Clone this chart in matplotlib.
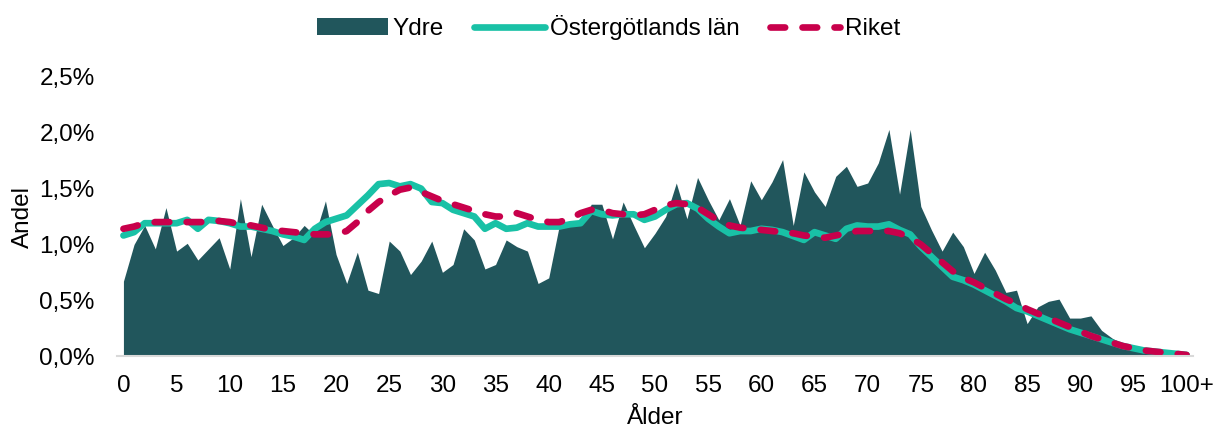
import numpy as np
import matplotlib
matplotlib.use("Agg")
import matplotlib.pyplot as plt
from matplotlib.ticker import FuncFormatter

plt.rcParams['font.family'] = ['Liberation Sans', 'DejaVu Sans']

# Age 0..100 (last one is "100+"), share of population in %
ages = list(range(101))

ydre = [0.67, 1.00, 1.17, 0.96, 1.33, 0.94, 1.01, 0.86, 0.96, 1.06,
        0.78, 1.41, 0.89, 1.36, 1.17, 0.99, 1.06, 1.17, 1.08, 1.39,
        0.91, 0.65, 0.93, 0.59, 0.56, 1.03, 0.94, 0.73, 0.85, 1.03,
        0.75, 0.82, 1.14, 1.04, 0.78, 0.82, 1.04, 0.98, 0.94, 0.65,
        0.70, 1.17, 1.17, 1.17, 1.36, 1.36, 1.05, 1.38, 1.17, 0.97,
        1.10, 1.25, 1.55, 1.23, 1.60, 1.40, 1.22, 1.41, 1.17, 1.57,
        1.40, 1.56, 1.76, 1.17, 1.65, 1.47, 1.34, 1.61, 1.70, 1.52,
        1.55, 1.73, 2.03, 1.45, 2.03, 1.34, 1.13, 0.94, 1.11, 0.98,
        0.74, 0.93, 0.77, 0.57, 0.59, 0.29, 0.44, 0.49, 0.51, 0.34,
        0.34, 0.36, 0.23, 0.16, 0.11, 0.08, 0.06, 0.04, 0.03, 0.02,
        0.01]

ostergotland = [1.08, 1.11, 1.19, 1.19, 1.19, 1.19, 1.22, 1.14, 1.22, 1.21,
                1.19, 1.16, 1.16, 1.14, 1.12, 1.09, 1.07, 1.04, 1.14, 1.20,
                1.23, 1.26, 1.35, 1.44, 1.54, 1.55, 1.52, 1.54, 1.50, 1.38,
                1.37, 1.31, 1.28, 1.25, 1.14, 1.19, 1.14, 1.15, 1.19, 1.16,
                1.16, 1.16, 1.18, 1.19, 1.30, 1.27, 1.26, 1.27, 1.27, 1.22,
                1.25, 1.31, 1.36, 1.37, 1.32, 1.23, 1.16, 1.10, 1.12, 1.12,
                1.14, 1.13, 1.11, 1.075, 1.04, 1.11, 1.08, 1.05, 1.14, 1.17,
                1.16, 1.16, 1.18, 1.13, 1.09, 0.98, 0.89, 0.80, 0.71, 0.68,
                0.64, 0.59, 0.54, 0.49, 0.43, 0.40, 0.36, 0.32, 0.28, 0.24,
                0.21, 0.18, 0.15, 0.12, 0.09, 0.07, 0.05, 0.04, 0.03, 0.02,
                0.01]

riket = [1.14, 1.16, 1.19, 1.20, 1.20, 1.20, 1.20, 1.20, 1.20, 1.21,
         1.20, 1.18, 1.17, 1.15, 1.13, 1.12, 1.11, 1.10, 1.09, 1.09,
         1.09, 1.12, 1.20, 1.30, 1.38, 1.44, 1.49, 1.51, 1.47, 1.43,
         1.39, 1.36, 1.33, 1.30, 1.27, 1.25, 1.25, 1.28, 1.25, 1.22,
         1.20, 1.20, 1.23, 1.28, 1.31, 1.31, 1.28, 1.27, 1.26, 1.27,
         1.31, 1.35, 1.37, 1.36, 1.33, 1.27, 1.21, 1.17, 1.15, 1.14,
         1.13, 1.12, 1.11, 1.10, 1.08, 1.07, 1.06, 1.08, 1.10, 1.12,
         1.12, 1.12, 1.12, 1.10, 1.06, 1.00, 0.92, 0.84, 0.76, 0.70,
         0.66, 0.61, 0.56, 0.51, 0.47, 0.42, 0.38, 0.34, 0.30, 0.26,
         0.22, 0.18, 0.15, 0.12, 0.09, 0.07, 0.05, 0.04, 0.03, 0.02,
         0.01]

xtick_pos = list(range(0, 101, 5))
xtick_labels = [str(a) for a in range(0, 100, 5)] + ["100+"]

c_ydre = "#21565C"
c_ost = "#19C1A6"
c_riket = "#C8004B"

fig = plt.figure(figsize=(12.13, 4.30), dpi=100)
ax = fig.add_axes([0.0965, 0.172, 0.887, 0.649])

ax.fill_between(ages, ydre, 0, color=c_ydre, linewidth=0, label="Ydre")
ax.plot(ages, ostergotland, color=c_ost, linewidth=4.8, solid_capstyle="round",
        solid_joinstyle="round", label="Östergötlands län")
ax.plot(ages, riket, color=c_riket, linewidth=4.8, linestyle=(0, (2.2, 2.6)),
        dash_capstyle="round", label="Riket")

ax.set_xlim(-0.6, 100.6)
ax.set_ylim(0, 2.5)
ax.set_yticks([0, 0.5, 1.0, 1.5, 2.0, 2.5])
ax.yaxis.set_major_formatter(FuncFormatter(lambda v, p: f"{v:.1f}%".replace(".", ",")))
ax.set_xticks(xtick_pos)
ax.set_xticklabels(xtick_labels)
ax.tick_params(axis="both", length=0, labelsize=17.5, colors="#000000")
ax.tick_params(axis="x", pad=14)
ax.tick_params(axis="y", pad=16)

for s in ["top", "right", "left"]:
    ax.spines[s].set_visible(False)
ax.spines["bottom"].set_color("#D9D9D9")
ax.spines["bottom"].set_linewidth(1.5)

ax.set_xlabel("Ålder", fontsize=17.5, labelpad=7)
ax.set_ylabel("Andel", fontsize=17.5, labelpad=4)

ax.legend(loc="center", bbox_to_anchor=(0.457, 1.176), ncol=3, frameon=False,
          fontsize=17.5, handlelength=2.9, handletextpad=0.2, columnspacing=1.25)

fig.savefig("out.png", dpi=100)
